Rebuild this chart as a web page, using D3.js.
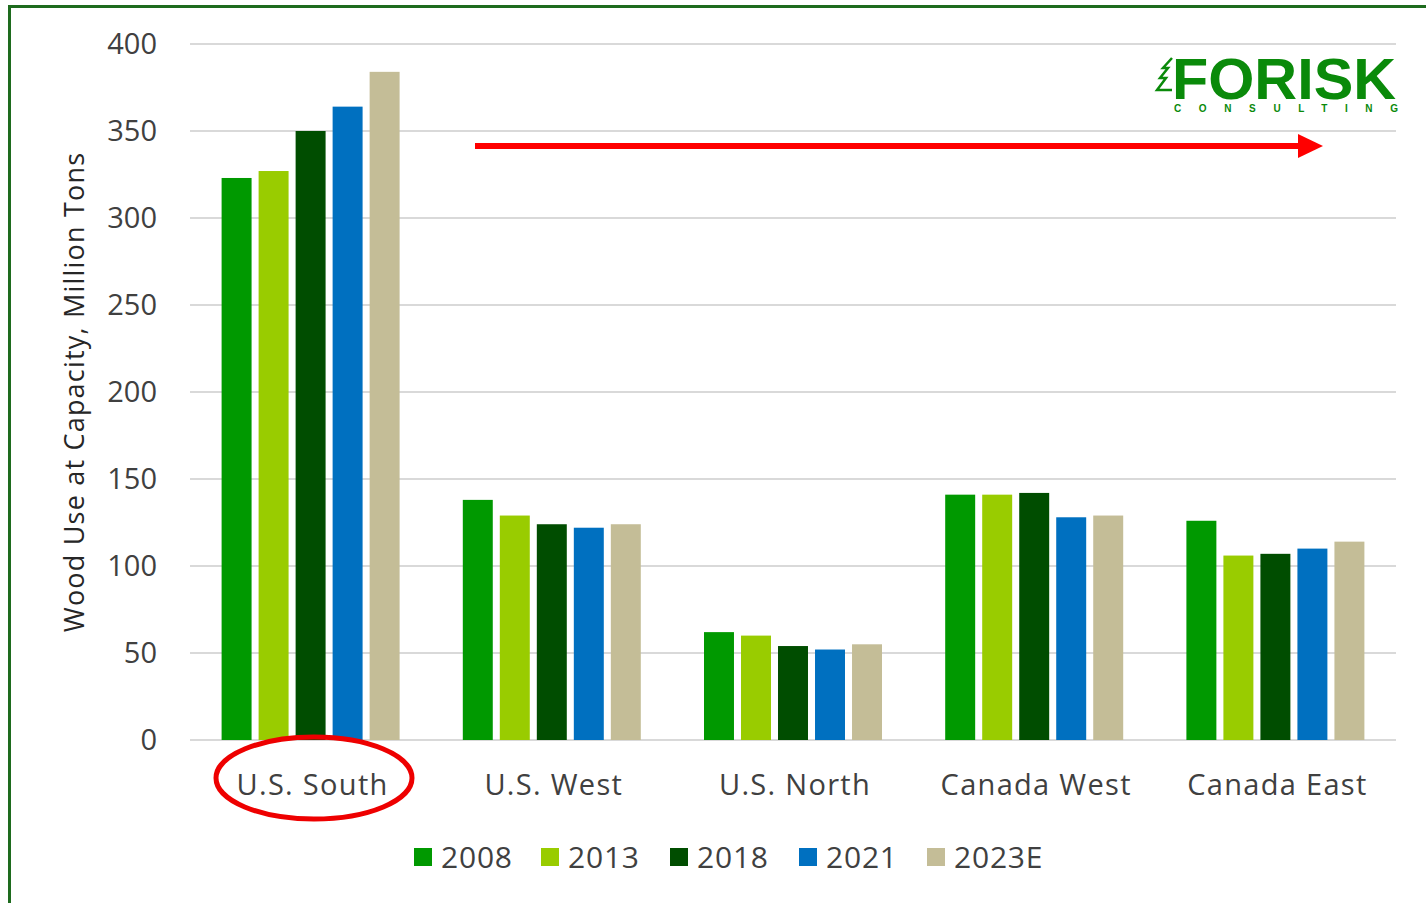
<!DOCTYPE html>
<html>
<head>
<meta charset="utf-8">
<script src="https://cdn.jsdelivr.net/npm/d3@7"></script>
<style>
  body { margin: 0; background: #fff; }
  svg text { font-family: "Open Sans", "Noto Sans", sans-serif; fill: #404040; }
</style>
</head>
<body>
<div id="chart"></div>
<script>
"use strict"

const regions = ["U.S. South", "U.S. West", "U.S. North", "Canada West", "Canada East"];
const years = ["2008", "2013", "2018", "2021", "2023E"];
const colors = ["#009900", "#99cc00", "#004d00", "#0070c0", "#c4bd97"];
const v2008 = [323, 138, 62, 141, 126];
const v2013 = [327, 129, 60, 141, 106];
const v2018 = [350, 124, 54, 142, 107];
const v2021 = [364, 122, 52, 128, 110];
const v2023 = [384, 124, 55, 129, 114];
const yTicks = [0, 50, 100, 150, 200, 250, 300, 350, 400];

const series = [v2008, v2013, v2018, v2021, v2023];

const W = 1426, H = 903;
const svg = d3.select("#chart").append("svg")
    .attr("width", W)
    .attr("height", H);

// outer frame
svg.append("path")
    .attr("d", "M9.5,903 V6.5 H1426")
    .attr("fill", "none")
    .attr("stroke", "#1e6b1e")
    .attr("stroke-width", 3);

const y = d3.scaleLinear().domain([0, 400]).range([740, 44]);
const x0 = d3.scaleBand().domain(regions).range([190, 1396]).padding(0);
const x1 = d3.scaleBand().domain(years)
    .range([31.6, x0.bandwidth() - 31.6])
    .paddingInner(0.19).paddingOuter(0);

// gridlines
svg.append("g").selectAll("line").data(yTicks).enter().append("line")
    .attr("x1", 190).attr("x2", 1396)
    .attr("y1", d => y(d)).attr("y2", d => y(d))
    .attr("stroke", "#d9d9d9")
    .attr("stroke-width", 2);

// y tick labels
svg.append("g").selectAll("text").data(yTicks).enter().append("text")
    .attr("x", 157).attr("y", d => y(d) + 10)
    .attr("text-anchor", "end")
    .style("font-size", "29px")
    .text(d => d);

svg.append("text")
    .attr("transform", "translate(84,392) rotate(-90)")
    .attr("text-anchor", "middle")
    .style("font-size", "27px")
    .style("letter-spacing", "1.2px")
    .style("fill", "#262626")
    .text("Wood Use at Capacity, Million Tons");

// bars
const groups = svg.append("g").selectAll("g").data(regions).enter().append("g")
    .attr("transform", d => "translate(" + x0(d) + ",0)");

groups.selectAll("rect")
    .data((r, i) => years.map((yr, j) => ({ year: yr, value: series[j][i], c: colors[j] })))
    .enter().append("rect")
    .attr("x", d => x1(d.year))
    .attr("width", x1.bandwidth())
    .attr("y", d => y(d.value))
    .attr("height", d => y(0) - y(d.value))
    .attr("fill", d => d.c);

// category labels
svg.append("g").selectAll("text").data(regions).enter().append("text")
    .attr("x", d => x0(d) + x0.bandwidth() / 2 + 2)
    .attr("y", 795)
    .attr("text-anchor", "middle")
    .style("font-size", "29px")
    .style("letter-spacing", "1.3px")
    .text(d => d);

// legend
const legendX = [414, 541, 670, 799, 927];
const legend = svg.append("g").selectAll("g").data(years).enter().append("g")
    .attr("transform", (d, i) => "translate(" + legendX[i] + ",848)");
legend.append("rect")
    .attr("width", 18).attr("height", 18)
    .attr("fill", (d, i) => colors[i]);
legend.append("text")
    .attr("x", 27).attr("y", 20)
    .style("font-size", "30px")
    .style("letter-spacing", "0.8px")
    .text(d => d);

// red highlight ellipse
svg.append("ellipse")
    .attr("cx", 314).attr("cy", 778)
    .attr("rx", 98).attr("ry", 41)
    .attr("fill", "none")
    .attr("stroke", "#ee0000")
    .attr("stroke-width", 5);

// red arrow
svg.append("line")
    .attr("x1", 475).attr("x2", 1302)
    .attr("y1", 146).attr("y2", 146)
    .attr("stroke", "#ff0000")
    .attr("stroke-width", 6);
svg.append("path")
    .attr("d", "M1298,134 L1323,146 L1298,158 Z")
    .attr("fill", "#ff0000");

// logo
const logo = svg.append("g");
logo.append("text")
    .attr("x", 1172).attr("y", 99)
    .style("font-family", "'Liberation Sans', Arial, sans-serif")
    .style("font-weight", "bold")
    .style("font-size", "58px")
    .style("fill", "#0a8a0a")
    .attr("textLength", 224)
    .attr("lengthAdjust", "spacingAndGlyphs")
    .text("FORISK");
logo.append("text")
    .attr("x", 1174).attr("y", 112)
    .style("font-family", "'Liberation Sans', Arial, sans-serif")
    .style("font-weight", "bold")
    .style("font-size", "10px")
    .style("fill", "#0a8a0a")
    .attr("textLength", 224)
    .attr("lengthAdjust", "spacing")
    .text("CONSULTING");
logo.append("path")
    .attr("d", "M1172,58 L1163,68 L1168,68 L1160,78 L1166,78 L1157,90 L1172,90")
    .attr("fill", "none")
    .attr("stroke", "#0a8a0a")
    .attr("stroke-width", 2.5);
</script>
</body>
</html>
